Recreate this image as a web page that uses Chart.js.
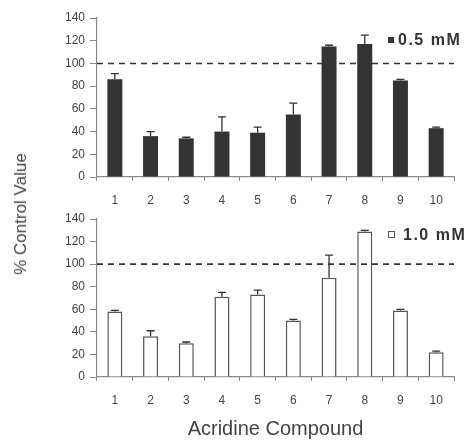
<!DOCTYPE html>
<html>
<head>
<meta charset="utf-8">
<script src="https://cdn.jsdelivr.net/npm/chart.js@4.4.1/dist/chart.umd.min.js"></script>
<style>
  body { margin: 0; background: #fff; width: 470px; height: 441px; overflow: hidden; font-family: "Liberation Sans", Arial, sans-serif; }
  #wrap { position: relative; width: 470px; height: 441px; }
  .panel { position: absolute; left: 0; width: 470px; }
  #topPanel { top: 0; height: 208px; }
  #bottomPanel { top: 205px; height: 236px; }
  #yTitle {
    position: absolute; left: 21px; top: 214px;
    transform: translate(-50%, -50%) rotate(-90deg);
    white-space: nowrap; font-size: 17px; color: #444;
  }
</style>
</head>
<body>
<div id="wrap">
  <div class="panel" id="topPanel"><canvas id="topChart"></canvas></div>
  <div class="panel" id="bottomPanel"><canvas id="bottomChart"></canvas></div>
  <div id="yTitle">% Control Value</div>
</div>
<script>
// data
const compounds = ["1", "2", "3", "4", "5", "6", "7", "8", "9", "10"];
const low = [86, 36, 34, 40, 39, 55, 115, 117, 85, 43];        // 0.5 mM
const lowErr = [5, 4, 1, 13, 5, 10, 1, 8, 1, 1];
const high = [58, 36, 30, 71, 73, 50, 88, 129, 59, 22];       // 1.0 mM
const highErr = [1, 5, 1, 4, 4, 1, 20, 1, 1, 1];
const yTicks = [0, 20, 40, 60, 80, 100, 120, 140];
const controlLevel = 100;

const axisGrey = "#8a8a8a";
const textGrey = "#444";
const fontFam = "'Liberation Sans', Arial, sans-serif";

// error bars, dashed 100% line and the little legend
const extras = {
  id: "extras",
  afterDatasetsDraw(chart, args, opts) {
    const ctx = chart.ctx;
    const y = chart.scales.y;
    const area = chart.chartArea;
    const meta = chart.getDatasetMeta(0);
    const ds = chart.data.datasets[0];

    ctx.save();
    ctx.strokeStyle = "#333";
    ctx.lineWidth = 1.3;
    meta.data.forEach((bar, i) => {
      const top = y.getPixelForValue(ds.data[i] + opts.errors[i]);
      const base = y.getPixelForValue(ds.data[i]);
      ctx.beginPath();
      ctx.moveTo(bar.x, base);
      ctx.lineTo(bar.x, top);
      ctx.moveTo(bar.x - 4, top);
      ctx.lineTo(bar.x + 4, top);
      ctx.stroke();
    });

    const yl = y.getPixelForValue(controlLevel);
    ctx.setLineDash([6, 5]);
    ctx.lineWidth = 1.6;
    ctx.strokeStyle = "#333";
    ctx.beginPath();
    ctx.moveTo(area.left, yl);
    ctx.lineTo(area.right, yl);
    ctx.stroke();
    ctx.setLineDash([]);

    // legend
    const lx = opts.legendX, ly = opts.legendY;
    ctx.lineWidth = 1;
    if (opts.filled) {
      ctx.fillStyle = "#333";
      ctx.fillRect(lx, ly - 3, 6, 6);
    } else {
      ctx.strokeStyle = "#555";
      ctx.strokeRect(lx + 0.5, ly - 3.5, 6, 6);
    }
    ctx.fillStyle = "#333";
    ctx.font = "bold 16px " + fontFam;
    ctx.letterSpacing = "1.5px";
    ctx.textBaseline = "middle";
    ctx.fillText(ds.label, lx + opts.textGap, ly + 1);
    ctx.restore();
  }
};

function makeOptions(errors, filled, legendY, textGap, showTitle) {
  return {
    responsive: true,
    maintainAspectRatio: false,
    animation: false,
    layout: { padding: { top: showTitle ? 14 : 18, right: 16, left: 0, bottom: 0 } },
    plugins: {
      legend: { display: false },
      tooltip: { enabled: false },
      extras: { errors: errors, filled: filled, legendX: 388, legendY: legendY, textGap: textGap }
    },
    scales: {
      x: {
        afterFit: (s) => { s.height = showTitle ? 64 : 31; },
        grid: { display: true, drawOnChartArea: false, drawTicks: true, tickLength: 4, color: axisGrey },
        border: { display: true, color: axisGrey, width: 1.2 },
        ticks: { color: textGrey, font: { size: 12, family: fontFam }, padding: 12 },
        title: {
          display: showTitle,
          text: "Acridine Compound",
          color: textGrey,
          font: { size: 20, family: fontFam },
          padding: { top: 11, bottom: 0 }
        }
      },
      y: {
        min: 0,
        max: 140,
        afterBuildTicks: (s) => { s.ticks = yTicks.map(v => ({ value: v })); },
        afterFit: (s) => { s.width = 97; },
        grid: { display: true, drawOnChartArea: false, drawTicks: true, tickLength: 7, color: axisGrey },
        border: { display: true, color: axisGrey, width: 1.2 },
        ticks: { color: textGrey, font: { size: 12, family: fontFam }, padding: 5 }
      }
    }
  };
}

new Chart(document.getElementById("topChart"), {
  type: "bar",
  data: {
    labels: compounds,
    datasets: [{
      label: "0.5 mM",
      data: low,
      backgroundColor: "#333",
      borderColor: "#333",
      borderWidth: 0,
      barPercentage: 0.42,
      categoryPercentage: 1
    }]
  },
  options: makeOptions(lowErr, true, 40, 10, false),
  plugins: [extras]
});

new Chart(document.getElementById("bottomChart"), {
  type: "bar",
  data: {
    labels: compounds,
    datasets: [{
      label: "1.0 mM",
      data: high,
      backgroundColor: "#fff",
      borderColor: "#555",
      borderWidth: 1.5,
      barPercentage: 0.42,
      categoryPercentage: 1
    }]
  },
  options: makeOptions(highErr, false, 30, 15, true),
  plugins: [extras]
});
</script>
</body>
</html>
